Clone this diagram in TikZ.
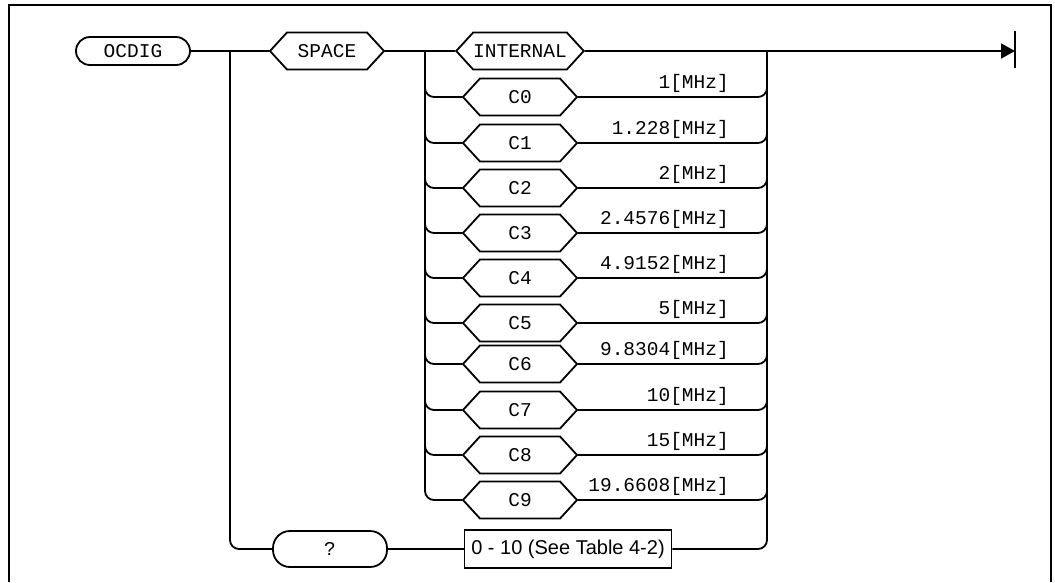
\documentclass[tikz,border=0pt]{standalone}
\usepackage{fontspec}
\setmonofont{Liberation Mono}
\setsansfont{Liberation Sans}
\usetikzlibrary{shapes.symbols,arrows.meta}
\tikzset{
  syntax/.style={line width=1.8pt},
  hexa/.style={draw,line width=1.8pt,shape=signal,signal to=west and east,
    signal pointer angle=95,minimum width=114pt,minimum height=37pt,inner sep=0pt,
    font=\ttfamily\fontsize{19.5}{21}\selectfont},
  pill/.style={draw,line width=1.8pt,rounded corners=14pt,minimum width=114pt,
    minimum height=28pt,inner sep=0pt,font=\ttfamily\fontsize{19.5}{21}\selectfont},
  freq/.style={anchor=base east,inner sep=0pt,font=\ttfamily\fontsize{19.5}{21}\selectfont},
  rangebox/.style={draw,line width=1.5pt,minimum width=207pt,minimum height=38pt,
    inner xsep=1pt,font=\sffamily\fontsize{20}{22}\selectfont}
}
\begin{document}
\begin{tikzpicture}[x=1pt,y=-1pt]
			\useasboundingbox (0,0) rectangle (1055,582);
			% frame
			\draw[line width=1.2pt] (9,582) -- (9,5) -- (1051,5) -- (1051,582);
			\coordinate (splitA) at (230,51);
			\coordinate (splitB) at (425,51);
			\coordinate (joinC) at (767,51);
			\coordinate (stop) at (1015,51);
			\coordinate (stopT) at (1015,31);
			\coordinate (stopB) at (1015,68);
			\node[pill] (ocdig) at (133,51) {OCDIG};
			\node[hexa] (space) at (327,51) {SPACE};
			\node[hexa] (internal) at (520,51) {INTERNAL};
			\draw[syntax] (ocdig) -- (space);
			\draw[syntax] (space) -- (internal);
			\draw[syntax,-{Triangle[length=14pt,width=15pt]}] (internal) -- (stop);
			\draw[line width=2.5pt] (stopT) -- (stopB);
			% clock sources
			\foreach \i/\y/\f in {0/97/1,1/143/1.228,2/188/2,3/233/2.4576,4/278/4.9152,
			  5/323/5,6/364/9.8304,7/410/10,8/455/15,9/500/19.6608}{
			  \node[hexa] (c\i) at (520,\y) {C\i};
			  \draw[syntax,rounded corners=9pt] (splitB) |- (c\i.west);
			  \draw[syntax,rounded corners=9pt] (c\i.east) -| (joinC);
			  \node[freq] at (729,\y-9) {\f[MHz]};
			}
			% query
			\node[pill,minimum height=36pt,rounded corners=17pt] (query) at (330,549) {?};
			\node[rangebox] (range) at (568,549) {0 - 10 (See Table 4-2)};
			\draw[syntax,rounded corners=9pt] (splitA) |- (query.west);
			\draw[syntax] (query) -- (range);
			\draw[syntax,rounded corners=9pt] (range.east) -| (joinC);
		\end{tikzpicture}
\end{document}
